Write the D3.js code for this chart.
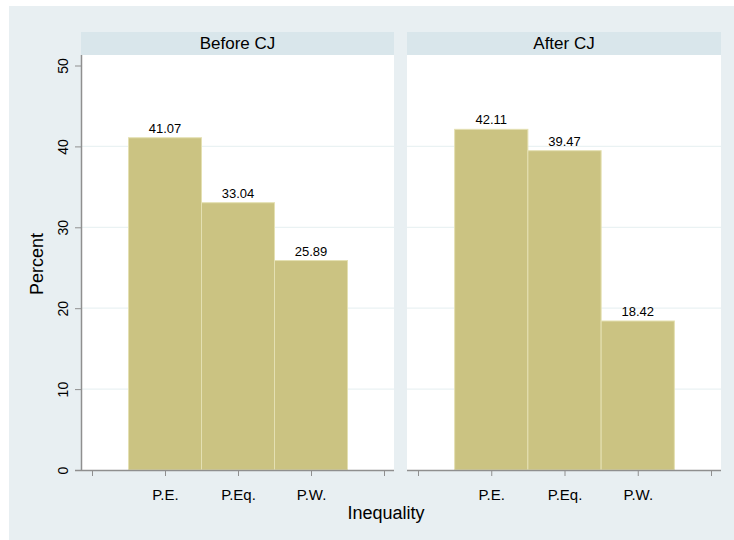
<!DOCTYPE html>
<html>
<head>
<meta charset="utf-8">
<script src="https://cdn.jsdelivr.net/npm/d3@7"></script>
<style>
  body { margin: 0; background: #fff; }
  text { font-family: "Liberation Sans", Arial, sans-serif; fill: #000; }
</style>
</head>
<body>
<div id="chart"></div>
<script>
const panelTitles = ["Before CJ", "After CJ"];
const categories = ["P.E.", "P.Eq.", "P.W."];
const beforeValues = [41.07, 33.04, 25.89];
const afterValues = [42.11, 39.47, 18.42];
const yTicks = [0, 10, 20, 30, 40, 50];
const gridTicks = [10, 20, 30, 40];

const width = 734, height = 540;

const svg = d3.select("#chart")
    .append("svg")
    .attr("width", width)
    .attr("height", height);

// outer background
svg.append("rect")
    .attr("x", 9).attr("y", 6)
    .attr("width", width - 9).attr("height", height - 6)
    .attr("fill", "#e8eff2");

const plotTop = 55, plotBottom = 470;
const yScale = d3.scaleLinear().domain([0, 50]).range([plotBottom, plotBottom - 404.5]);

// panel boxes: plot left / right edges
const panels = [
    { title: panelTitles[0], values: beforeValues, left: 81, right: 394 },
    { title: panelTitles[1], values: afterValues, left: 407, right: 721 }
];

panels.forEach((p, pi) => {
    const g = svg.append("g");

    // strip
    g.append("rect")
        .attr("x", p.left).attr("y", 32)
        .attr("width", p.right - p.left).attr("height", plotTop - 32)
        .attr("fill", "#d9e6eb");
    g.append("text")
        .attr("x", (p.left + p.right) / 2)
        .attr("y", 48.5)
        .attr("text-anchor", "middle")
        .style("font-size", "17px")
        .text(p.title);

    // plot area
    g.append("rect")
        .attr("x", p.left).attr("y", plotTop)
        .attr("width", p.right - p.left).attr("height", plotBottom - plotTop)
        .attr("fill", "#fff");

    // gridlines
    g.selectAll("grid")
        .data(gridTicks)
        .enter()
        .append("line")
        .attr("x1", p.left).attr("x2", p.right)
        .attr("y1", d => yScale(d)).attr("y2", d => yScale(d))
        .attr("stroke", "#eaf2f3")
        .attr("stroke-width", 1.2);

    const xScale = d3.scaleLinear()
        .domain([0, 4])
        .range([p.left + 11, p.right - 10]);

    // bars
    g.selectAll("bars")
        .data(p.values)
        .enter()
        .append("rect")
        .attr("x", (d, i) => xScale(i + 0.5))
        .attr("width", xScale(1) - xScale(0))
        .attr("y", d => yScale(d))
        .attr("height", d => yScale(0) - yScale(d))
        .attr("fill", "#cbc382")
        .attr("stroke", "#e4e0b2")
        .attr("stroke-width", 1);

    // value labels
    g.selectAll("vals")
        .data(p.values)
        .enter()
        .append("text")
        .attr("x", (d, i) => xScale(i + 1))
        .attr("y", d => yScale(d) - 5)
        .attr("text-anchor", "middle")
        .style("font-size", "13px")
        .text(d => d.toFixed(2));

    // x axis
    const xAxis = g.append("g")
        .attr("transform", "translate(0," + plotBottom + ")")
        .call(d3.axisBottom(xScale)
            .tickValues([0, 1, 2, 3, 4])
            .tickSize(6)
            .tickFormat(d => (d >= 1 && d <= 3) ? categories[d - 1] : ""));
    xAxis.select(".domain")
        .attr("d", "M" + (pi === 0 ? p.left - 6 : p.left) + ",0.5H" + p.right)
        .attr("stroke", "#8f8f8f")
        .attr("stroke-width", 1.5);
    xAxis.selectAll(".tick line").attr("stroke", "#8f8f8f");
    xAxis.selectAll(".tick text")
        .attr("y", 19)
        .style("font-family", "'Liberation Sans', Arial, sans-serif")
        .style("font-size", "15px")
        .attr("fill", "#000");

    if (pi === 0) {
        const yAxis = g.append("g")
            .attr("transform", "translate(" + p.left + ",0)")
            .call(d3.axisLeft(yScale).tickValues(yTicks).tickSize(6).tickFormat(d3.format("d")));
        yAxis.select(".domain")
            .attr("d", "M0.5," + plotTop + "V" + plotBottom)
            .attr("stroke", "#8f8f8f")
            .attr("stroke-width", 1.5);
        yAxis.selectAll(".tick line").attr("stroke", "#8f8f8f");
        yAxis.selectAll(".tick text")
            .attr("x", null).attr("dy", null)
            .attr("text-anchor", "middle")
            .attr("transform", "translate(-13,0) rotate(-90)")
            .style("font-family", "'Liberation Sans', Arial, sans-serif")
            .style("font-size", "14px")
            .attr("fill", "#000");
    }
});

// axis titles
svg.append("text")
    .attr("transform", "translate(43,264) rotate(-90)")
    .attr("text-anchor", "middle")
    .style("font-size", "18px")
    .text("Percent");

svg.append("text")
    .attr("x", 386)
    .attr("y", 519)
    .attr("text-anchor", "middle")
    .style("font-size", "18px")
    .text("Inequality");
</script>
</body>
</html>
